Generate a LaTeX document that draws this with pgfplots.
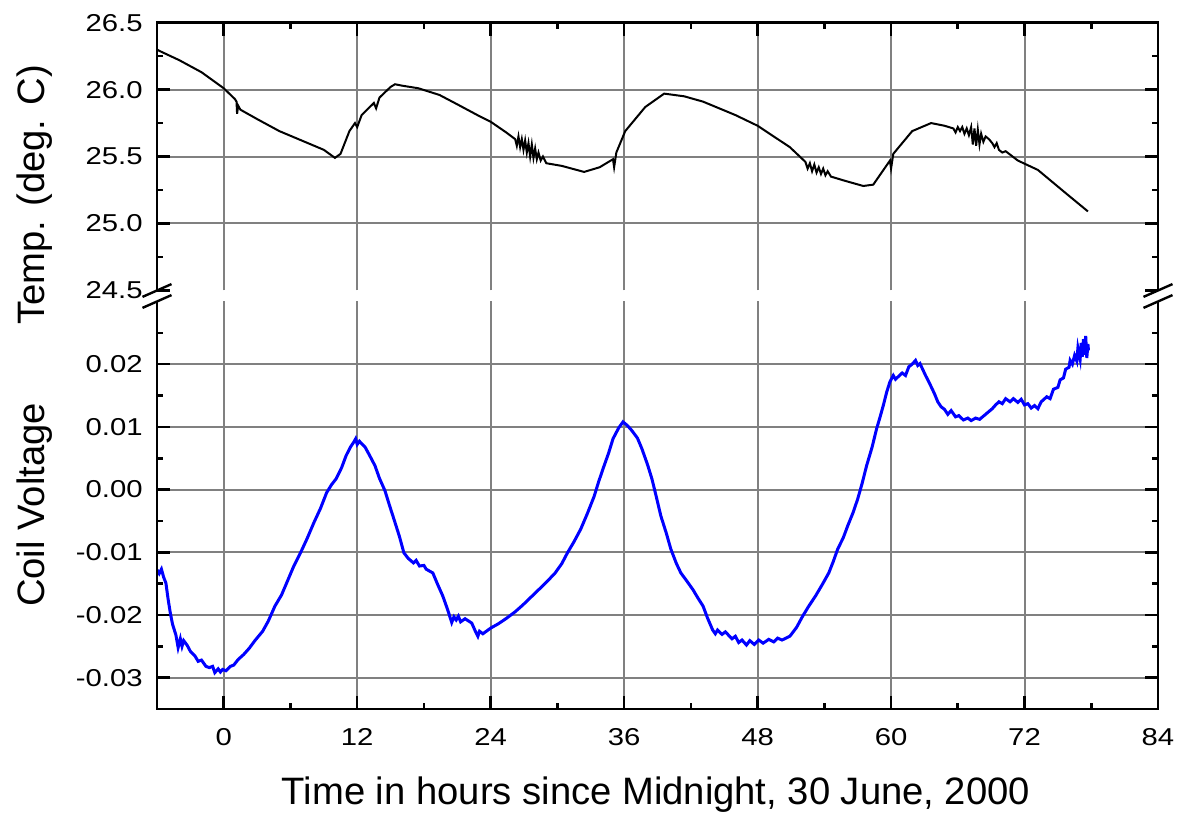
\documentclass[border=0pt]{standalone}
\usepackage{fontspec}
\setmainfont{Liberation Sans}
\newfontfamily\tickfont[FakeStretch=1.2]{Liberation Sans}
\usepackage{pgfplots}
\pgfplotsset{compat=1.18}

% 1 px of the reference = 0.5pt
\pgfplotsset{
  panel/.style={
    scale only axis, width=500.5pt, anchor=south west,
    xmin=-6, xmax=84,
    axis line style={draw=none},
    xtick={0,12,...,84}, minor xtick={-6,6,18,30,42,54,66,78},
    grid=major, major grid style={gray, line width=1pt},
    major tick length=6.5pt, minor tick length=3pt,
    tick style={black, line width=1.3pt},
    tick label style={font=\tickfont\fontsize{12.2}{13}\selectfont, inner sep=0pt},
    yticklabel shift=7pt, xticklabel shift=9.5pt,
    scaled ticks=false,
    clip mode=individual,
  },
}

\begin{document}
\begin{tikzpicture}
\path (0,0) rectangle (590pt,408.5pt);

% ---- temperature panel
\begin{axis}[panel, at={(78.5pt,263.3pt)}, height=133.85pt,
  ymin=24.5, ymax=26.5,
  xtick pos=right, xticklabels={},
  ytick={25,25.5,26,26.5}, yticklabels={25.0,25.5,26.0,26.5},
  minor ytick={24.75,25.25,25.75,26.25},
  extra y ticks={24.5}, extra y tick labels={24.5},
  extra y tick style={grid=none},
]
\addplot[black, line width=1pt] coordinates {
(-6,26.30) (-5.8,26.29) (-4,26.22) (-2,26.13) (0,26.01) (1.0,25.93) (1.15,25.91)
(1.2,25.82) (1.3,25.88) (1.5,25.85) (3,25.78) (5,25.69) (7,25.62) (9,25.55)
(10,25.49) (10.5,25.52) (11.3,25.69) (11.8,25.75) (12,25.72) (12.4,25.81)
(13.5,25.90) (13.7,25.86) (14,25.94) (15,26.02) (15.4,26.04) (16,26.03)
(17.5,26.01) (19.4,25.96) (21,25.89) (22.8,25.81) (24,25.76) (25.4,25.68)
(26.2,25.63) (26.35,25.58) (26.5,25.65) (26.65,25.57) (26.8,25.63) (26.95,25.55)
(27.1,25.62) (27.25,25.53) (27.4,25.60) (27.55,25.50) (27.7,25.59) (27.85,25.49)
(28.0,25.56) (28.15,25.48) (28.3,25.53) (28.5,25.47) (28.7,25.50) (29.0,25.45)
(30.4,25.43) (32.4,25.385) (33.8,25.42) (34.6,25.46) (35.0,25.48) (35.1,25.42)
(35.3,25.53) (36.1,25.69) (37.9,25.87) (39.6,25.97) (41.4,25.95) (43.1,25.91)
(46,25.81) (48,25.73) (50.9,25.57) (52.3,25.46) (52.5,25.41) (52.7,25.45)
(52.9,25.39) (53.1,25.44) (53.3,25.38) (53.5,25.42) (53.7,25.37) (53.9,25.41)
(54.1,25.36) (54.3,25.39) (54.6,25.35) (55.8,25.32) (57.5,25.28) (58.4,25.29)
(59.9,25.47) (60,25.41) (60.2,25.52) (61.9,25.69) (63.6,25.75) (64.8,25.73)
(65.6,25.71) (65.8,25.68) (66.0,25.72) (66.2,25.69) (66.4,25.72) (66.6,25.67)
(66.8,25.71) (67.0,25.66) (67.2,25.72) (67.35,25.59) (67.5,25.71) (67.65,25.58)
(67.8,25.70) (67.95,25.59) (68.1,25.67) (68.3,25.61) (68.5,25.65) (68.8,25.63)
(69.1,25.60) (69.3,25.57) (69.5,25.60) (69.7,25.55) (70,25.53) (70.3,25.54)
(71.4,25.47) (73.2,25.40) (75.8,25.22) (77.7,25.09)
};
\end{axis}

% ---- coil voltage panel
\begin{axis}[panel, at={(78.5pt,54pt)}, height=203.75pt,
  ymin=-0.035, ymax=0.03,
  xtick pos=left, xticklabels={0,12,24,36,48,60,72,84},
  ytick={-0.03,-0.02,-0.01,0,0.01,0.02},
  yticklabels={-0.03,-0.02,-0.01,0.00,0.01,0.02},
  minor ytick={-0.035,-0.025,-0.015,-0.005,0.005,0.015,0.025},
]
\addplot[blue, line width=1.5pt] coordinates {
(-6,-0.0128) (-5.8,-0.0134) (-5.6,-0.0127) (-5.4,-0.0140) (-5.2,-0.0149) (-5.0,-0.0175)
(-4.8,-0.0197) (-4.6,-0.0215) (-4.3,-0.0232) (-4.1,-0.0252) (-3.9,-0.0238) (-3.75,-0.0250)
(-3.6,-0.0241) (-3.3,-0.0248) (-3.0,-0.0258) (-2.6,-0.0265) (-2.3,-0.0274) (-2.0,-0.0272)
(-1.6,-0.0282) (-1.3,-0.0284) (-1.0,-0.0282) (-0.8,-0.0292) (-0.5,-0.0286) (-0.3,-0.0291)
(-0.1,-0.0287) (0.2,-0.0289) (0.6,-0.0282) (0.9,-0.0280) (1.3,-0.0271) (1.8,-0.0263)
(2.3,-0.0253) (2.8,-0.0241) (3.5,-0.0226) (4.0,-0.0210) (4.6,-0.0186) (5.2,-0.0168)
(5.8,-0.0143) (6.3,-0.0122) (6.9,-0.0101) (7.5,-0.0078) (8.1,-0.0053) (8.7,-0.0030)
(9.25,-0.0005) (9.7,0.0008) (10.1,0.0017) (10.6,0.0035) (11.0,0.0054) (11.4,0.0068)
(11.7,0.0076) (11.86,0.0081) (12.0,0.0072) (12.2,0.0077) (12.7,0.0068) (13.1,0.0055)
(13.6,0.0038) (14.0,0.0018) (14.5,-0.0002) (14.9,-0.0025) (15.3,-0.0047) (15.8,-0.0075)
(16.2,-0.0101) (16.6,-0.0110) (17.06,-0.0117) (17.3,-0.0113) (17.6,-0.0122) (18.0,-0.0121)
(18.2,-0.0127) (18.8,-0.0133) (19.2,-0.0150) (19.7,-0.0170) (20.1,-0.0190) (20.5,-0.0212)
(20.7,-0.0203) (20.9,-0.0208) (21.1,-0.0202) (21.3,-0.0211) (21.7,-0.0206) (22.3,-0.0213)
(22.6,-0.0225) (22.85,-0.0234) (23.0,-0.0226) (23.3,-0.0230) (24.0,-0.0221) (24.7,-0.0214)
(25.45,-0.0205) (26.2,-0.0195) (26.9,-0.0184) (27.6,-0.0172) (28.3,-0.0160) (29.0,-0.0148)
(29.8,-0.0133) (30.4,-0.0118) (30.9,-0.0101) (31.5,-0.0083) (32.1,-0.0063) (32.7,-0.0038)
(33.3,-0.0011) (33.7,0.0012) (34.1,0.0033) (34.6,0.0058) (35.0,0.0081) (35.5,0.0098)
(35.9,0.0108) (36.3,0.0102) (36.7,0.0094) (37.2,0.0082) (37.6,0.0065) (38.1,0.0040)
(38.5,0.0017) (38.9,-0.0012) (39.3,-0.0042) (39.8,-0.0070) (40.2,-0.0095) (40.7,-0.0118)
(41.1,-0.0133) (41.6,-0.0145) (42.2,-0.0160) (42.6,-0.0172) (43.1,-0.0186) (43.5,-0.0205)
(43.96,-0.0224) (44.2,-0.0230) (44.4,-0.0224) (44.8,-0.0231) (45.1,-0.0227) (45.7,-0.0238)
(46.0,-0.0234) (46.3,-0.0244) (46.6,-0.0240) (47.0,-0.0248) (47.3,-0.0241) (47.7,-0.0247)
(48.1,-0.0240) (48.5,-0.0245) (49.0,-0.0239) (49.45,-0.0243) (49.8,-0.0237) (50.2,-0.0240)
(50.9,-0.0234) (51.5,-0.0220) (52.05,-0.0202) (52.6,-0.0186) (53.2,-0.0170) (53.8,-0.0152)
(54.4,-0.0133) (54.8,-0.0115) (55.2,-0.0095) (55.7,-0.0077) (56.1,-0.0058) (56.6,-0.0036)
(57.0,-0.0015) (57.4,0.0010) (57.8,0.0038) (58.3,0.0068) (58.7,0.0097) (59.0,0.0115)
(59.3,0.0134) (59.6,0.0155) (59.9,0.0172) (60.2,0.0182) (60.4,0.0176) (61.0,0.0186)
(61.3,0.0182) (61.6,0.0196) (61.9,0.0200) (62.2,0.0206) (62.4,0.0198) (62.6,0.0201)
(63.1,0.0182) (63.5,0.0168) (63.9,0.0153) (64.2,0.0140) (64.5,0.0132) (64.8,0.0128)
(65.1,0.0120) (65.4,0.0126) (65.8,0.0116) (66.1,0.0118) (66.5,0.0111) (66.9,0.0114)
(67.2,0.0110) (67.6,0.0114) (67.96,0.0112) (68.5,0.0120) (69.1,0.0129) (69.4,0.0135)
(69.7,0.0140) (70.0,0.0137) (70.3,0.0145) (70.7,0.0140) (71.0,0.0145) (71.4,0.0139)
(71.7,0.0144) (72.0,0.0135) (72.3,0.0137) (72.6,0.0130) (72.9,0.0134) (73.2,0.0129)
(73.5,0.0140) (74.0,0.0148) (74.3,0.0145) (74.6,0.0160) (75.0,0.0163) (75.2,0.0175)
(75.5,0.0178) (75.7,0.0192) (76.0,0.0195) (76.1,0.0206) (76.3,0.0200) (76.5,0.0214)
(76.7,0.0205) (76.8,0.0226) (77.0,0.0208) (77.1,0.0234) (77.2,0.0212) (77.3,0.0240)
(77.4,0.0215) (77.5,0.0245) (77.6,0.0210) (77.7,0.0232) (77.75,0.0222)
};
\end{axis}

% frames, broken between the two panels
\draw[line width=1.4pt] (78.5pt,263.3pt) -- (78.5pt,397.15pt) -- (579pt,397.15pt) -- (579pt,263.3pt);
\draw[line width=1.4pt] (78.5pt,257.75pt) -- (78.5pt,54pt) -- (579pt,54pt) -- (579pt,257.75pt);
\foreach \bx in {78.5pt,579pt}
  \foreach \by in {263.25pt,257.75pt}
    \draw[line width=1.2pt] ([shift={(-7.25pt,-3.2pt)}]\bx,\by) -- ([shift={(7.25pt,3.2pt)}]\bx,\by);

% axis titles
\node[anchor=base, font=\fontsize{19.1}{21}\selectfont] at (328pt,6pt)
  {Time in hours since Midnight, 30 June, 2000};
\node[anchor=base, rotate=90, font=\fontsize{19.1}{21}\selectfont] at (22.5pt,311pt)
  {Temp. (deg. C)};
\node[anchor=base, rotate=90, font=\fontsize{19.1}{21}\selectfont] at (22.5pt,156pt)
  {Coil Voltage};

\pgfresetboundingbox
\useasboundingbox (0,0) rectangle (590pt,408.5pt);
\end{tikzpicture}
\end{document}
